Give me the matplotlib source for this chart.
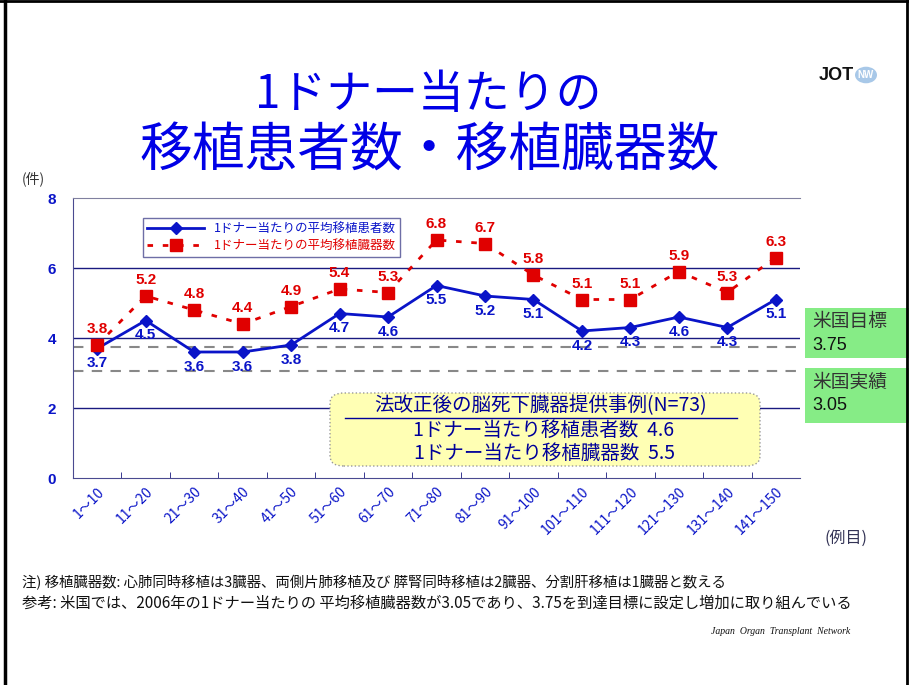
import matplotlib.pyplot as plt
from matplotlib.patches import Rectangle, FancyBboxPatch, Circle
import numpy as np

plt.rcParams['font.family'] = ['Noto Sans CJK JP', 'DejaVu Sans']

# data
categories = ['1～10', '11～20', '21～30', '31～40', '41～50', '51～60', '61～70', '71～80',
              '81～90', '91～100', '101～110', '111～120', '121～130', '131～140', '141～150']
patients = [3.7, 4.5, 3.6, 3.6, 3.8, 4.7, 4.6, 5.5, 5.2, 5.1, 4.2, 4.3, 4.6, 4.3, 5.1]
organs = [3.8, 5.2, 4.8, 4.4, 4.9, 5.4, 5.3, 6.8, 6.7, 5.8, 5.1, 5.1, 5.9, 5.3, 6.3]
us_target = 3.75
us_actual = 3.05
yticks = [0, 2, 4, 6, 8]

BLUE = '#0a14c8'
RED = '#e00000'
NAVY = '#1a1a80'

fig = plt.figure(figsize=(9.09, 6.85), dpi=100)
W, H = 909, 685

# slide frame
fig.add_artist(plt.Line2D([5 / W, 5 / W], [0, 1], color='black', lw=2.5))
fig.add_artist(plt.Line2D([0, 1], [1 - 1 / H, 1 - 1 / H], color='black', lw=2))
fig.add_artist(plt.Line2D([1 - 2 / W, 1 - 2 / W], [0, 1], color='black', lw=2))

ax = fig.add_axes([73 / W, 1 - 478 / H, 727 / W, 280 / H])
x = np.arange(len(categories))

for g in [2, 4, 6]:
    ax.axhline(g, color=NAVY, lw=1, zorder=1)
ax.axhline(us_target, color='#888888', lw=1.5, ls=(0, (5, 4)), zorder=1)
ax.axhline(us_actual, color='#888888', lw=1.5, ls=(0, (5, 4)), zorder=1)

ax.plot(x, patients, color=BLUE, lw=2, marker='D', ms=6, label='1ドナー当たりの平均移植患者数', zorder=3)
ax.plot(x, organs, color=RED, lw=2, ls=(0, (2, 3.5)), marker='s', ms=9,
        label='1ドナー当たりの平均移植臓器数', zorder=3)

for i in range(len(x)):
    ax.text(x[i], patients[i] - 0.22, f'{patients[i]:.1f}', color=BLUE, fontsize=11,
            fontweight='bold', family='Liberation Sans', ha='center', va='top')
    ax.text(x[i], organs[i] + 0.25, f'{organs[i]:.1f}', color=RED, fontsize=11,
            fontweight='bold', family='Liberation Sans', ha='center', va='bottom')

ax.set_xlim(-0.5, len(x) - 0.5)
ax.set_ylim(0, 8)
ax.set_yticks(yticks)
ax.set_yticklabels([str(v) for v in yticks], color=BLUE, fontweight='bold',
                   family='Liberation Sans', fontsize=11)
ax.tick_params(axis='y', length=0, pad=12)
ax.set_xticks(x)
ax.set_xticklabels(categories, rotation=45, ha='right', va='top', rotation_mode='anchor',
                   color=BLUE, fontsize=10)
ax.tick_params(axis='x', length=0, pad=5)
ax.set_xticks(np.arange(0.5, len(x) - 0.5, 1), minor=True)
ax.tick_params(axis='x', which='minor', direction='in', length=4, color=NAVY)
for s in ['left', 'bottom']:
    ax.spines[s].set_color('#4a4a90')
ax.spines['top'].set_color('#8080a0')
ax.spines['right'].set_visible(False)

leg = ax.legend(loc='upper left', bbox_to_anchor=(70 / 727, 1 - 20 / 280), fontsize=9,
                frameon=True, fancybox=False, edgecolor='#4a4a90', labelcolor='linecolor',
                handlelength=4.5, borderpad=0.35, labelspacing=0.3, borderaxespad=0)
leg.get_frame().set_linewidth(1)

# title
fig.text(428 / W, 1 - 95 / H, '1ドナー当たりの', color='#0000e6', fontsize=33, ha='center',
         va='center', style='italic')
fig.text(430 / W, 1 - 150 / H, '移植患者数・移植臓器数', color='#0000e6', fontsize=38,
         ha='center', va='center', style='italic')

# logo
fig.text(836 / W, 1 - 76 / H, 'JOT', fontsize=13, fontweight='bold', family='Liberation Sans',
         ha='center', va='center', color='#111111')
fig.add_artist(Circle((866 / W, 1 - 75 / H), 11 / W, transform=fig.transFigure,
                      facecolor='#a8c8e8', edgecolor='none'))
fig.text(866 / W, 1 - 75 / H, 'NW', fontsize=7, color='white', ha='center', va='center',
         family='Liberation Sans', fontweight='bold')

fig.text(22 / W, 1 - 179 / H, '(件)', fontsize=10, color='#333333', ha='left', va='center')
fig.text(825 / W, 1 - 538 / H, '(例目)', fontsize=11.5, color='#333355', ha='left', va='center')

# US boxes
for (y0, y1, head, val) in [(308, 358, '米国目標', f'{us_target:.2f}'),
                            (368, 423, '米国実績', f'{us_actual:.2f}')]:
    fig.add_artist(Rectangle((805 / W, 1 - y1 / H), 104 / W, (y1 - y0) / H,
                             transform=fig.transFigure, facecolor='#86ec86', edgecolor='none'))
    fig.text(812 / W, 1 - (y0 + 14) / H, head, fontsize=13.5, color='#333333', va='center')
    fig.text(812 / W, 1 - (y0 + 38) / H, val, fontsize=13, color='#111111', va='center',
             family='Liberation Sans')

# summary box
fig.add_artist(FancyBboxPatch((330 / W, 1 - 466 / H), 430 / W, 73 / H,
                              boxstyle='round,pad=0,rounding_size=0.015',
                              transform=fig.transFigure, facecolor='#ffffb4',
                              edgecolor='#999999', ls=':', lw=1))
fig.text(541 / W, 1 - 406 / H, '法改正後の脳死下臓器提供事例(N=73)', fontsize=14,
         color='#000099', ha='center', va='center')
fig.add_artist(plt.Line2D([345 / W, 737 / W], [1 - 418 / H, 1 - 418 / H], color='#000099', lw=1))
fig.text(544 / W, 1 - 430 / H, '1ドナー当たり移植患者数  4.6', fontsize=14, color='#000099',
         ha='center', va='center')
fig.text(544 / W, 1 - 453 / H, '1ドナー当たり移植臓器数  5.5', fontsize=14, color='#000099',
         ha='center', va='center')

# notes
fig.text(22 / W, 1 - 583 / H, '注) 移植臓器数: 心肺同時移植は3臓器、両側片肺移植及び 膵腎同時移植は2臓器、分割肝移植は1臓器と数える',
         fontsize=10.4, color='#111111', va='center')
fig.text(22 / W, 1 - 603 / H, '参考: 米国では、2006年の1ドナー当たりの 平均移植臓器数が3.05であり、3.75を到達目標に設定し増加に取り組んでいる',
         fontsize=11, color='#111111', va='center')
fig.text(850 / W, 1 - 632 / H, 'Japan  Organ  Transplant  Network', fontsize=7, style='italic',
         family='Liberation Serif', ha='right', va='center', color='#111111')

fig.savefig('out.png', dpi=100, facecolor='white')
